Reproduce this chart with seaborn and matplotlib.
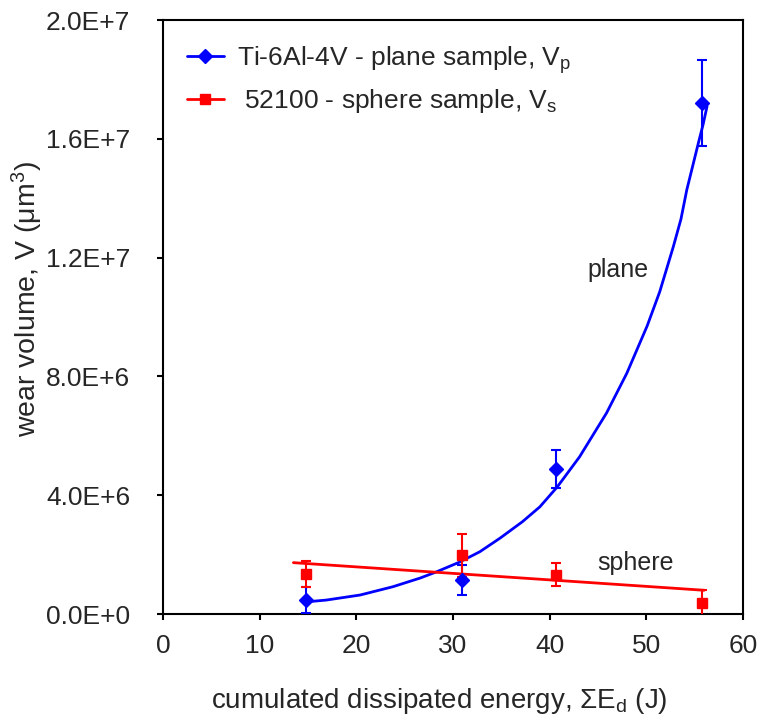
import numpy as np
import pandas as pd
import seaborn as sns
import matplotlib.pyplot as plt
from matplotlib.lines import Line2D
from matplotlib.ticker import FuncFormatter

sns.set_theme(style="white")
plt.rcParams["font.family"] = ["Liberation Sans", "DejaVu Sans"]
plt.rcParams["mathtext.fontset"] = "custom"
plt.rcParams["mathtext.rm"] = "Liberation Sans"
plt.rcParams["mathtext.it"] = "Liberation Sans"

# -------------------------------
# DATA
# -------------------------------
energy = [14.8, 30.9, 40.7, 55.8]

plane_vol = [0.47e6, 1.14e6, 4.88e6, 17.2e6]
plane_err = [0.45e6, 0.50e6, 0.64e6, 1.45e6]

sphere_vol = [1.35e6, 1.98e6, 1.32e6, 0.36e6]
sphere_err = [0.45e6, 0.72e6, 0.39e6, 0.45e6]

# fitted curves as drawn in the original
plane_fit_x = [14.85, 16.9, 20.4, 23.8, 26.6, 28.3, 30.7, 32.8, 34.9, 37.2, 39.0,
               40.8, 43.1, 45.9, 48.0, 50.1, 51.4, 52.8, 53.6, 54.2, 54.9,
               55.4, 55.9, 56.3]
plane_fit_y = [0.41e6, 0.47e6, 0.64e6, 0.92e6, 1.21e6, 1.42e6, 1.75e6, 2.10e6,
               2.56e6, 3.11e6, 3.61e6, 4.28e6, 5.29e6, 6.77e6, 8.11e6, 9.70e6,
               10.85e6, 12.36e6, 13.3e6, 14.28e6, 15.2e6, 15.86e6, 16.5e6,
               17.1e6]

sphere_fit_x = [13.5, 56.0]
sphere_fit_y = [1.73e6, 0.80e6]

blue = "#0000ff"
red = "#ff0000"

# -------------------------------
# PLOT
# -------------------------------
fig = plt.figure(figsize=(7.65, 7.19), dpi=100)
ax = fig.add_axes([0.213, 0.146, 0.758, 0.826])

sns.lineplot(x=plane_fit_x, y=plane_fit_y, color=blue, linewidth=2, ax=ax,
             sort=False, estimator=None)
sns.lineplot(x=sphere_fit_x, y=sphere_fit_y, color=red, linewidth=2, ax=ax,
             sort=False, estimator=None)

ax.errorbar(energy, plane_vol, yerr=plane_err, fmt="D", color=blue,
            markersize=7, elinewidth=1.5, capsize=3.5, capthick=1.5, zorder=3)
ax.errorbar(energy, sphere_vol, yerr=sphere_err, fmt="s", color=red,
            markersize=7, elinewidth=1.5, capsize=3.5, capthick=1.5, zorder=3)

ax.text(47.1, 11.6e6, "plane", fontsize=18, ha="center", va="center")
ax.text(48.9, 1.72e6, "sphere", fontsize=18, ha="center", va="center")

ax.set_xlim(0, 60)
ax.set_ylim(0, 2.0e7)
ax.set_xticks(range(0, 61, 10))
ax.set_yticks(np.arange(0, 2.01e7, 4e6))
ax.yaxis.set_major_formatter(
    FuncFormatter(lambda v, p: "{:.1E}".format(v).replace("E+0", "E+")))

for s in ax.spines.values():
    s.set_color("black")
    s.set_linewidth(1.5)
ax.tick_params(axis="both", direction="out", length=4.5, width=1.5,
               color="black", labelsize=19, bottom=True, left=True)
ax.tick_params(axis="y", pad=19)
ax.tick_params(axis="x", pad=10)

ax.set_xlabel("cumulated dissipated energy, $\\Sigma$E$_\\mathrm{d}$ (J)",
              fontsize=20)
ax.xaxis.set_label_coords(0.476, -0.121)
ax.set_ylabel("wear volume, V ($\\mathrm{\\mu m^3}$)", fontsize=20.5)
ax.yaxis.set_label_coords(-0.203, 0.53)

handles = [
    Line2D([], [], color=blue, marker="D", markersize=7, linewidth=2),
    Line2D([], [], color=red, marker="s", markersize=7, linewidth=2),
]
ax.legend(handles, ["Ti-6Al-4V - plane sample, V$_\\mathrm{p}$",
                    " 52100 - sphere sample, V$_\\mathrm{s}$"],
          loc="upper left", frameon=False, fontsize=19, handlelength=1.4,
          handletextpad=0.5, borderaxespad=0.5, labelspacing=0.45)

fig.savefig("out.png", dpi=100)
